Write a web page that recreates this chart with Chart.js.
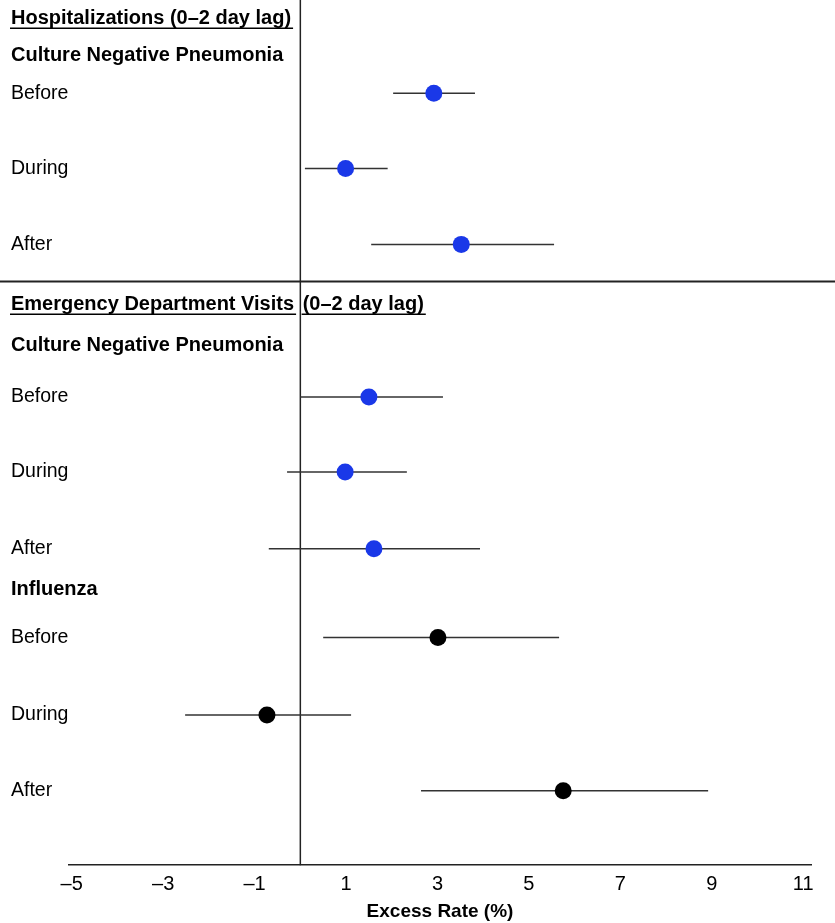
<!DOCTYPE html>
<html>
<head>
<meta charset="utf-8">
<script src="https://cdn.jsdelivr.net/npm/chart.js@4.4.1/dist/chart.umd.min.js"></script>
<style>
  body { margin: 0; background: #fff; }
  #wrap { width: 835px; height: 923px; }
</style>
</head>
<body>
<div id="wrap"><canvas id="forestChart"></canvas></div>
<script>
// rows of the forest plot (top to bottom)
const rowLabels = ['Before', 'During', 'After', 'Before', 'During', 'After', 'Before', 'During', 'After'];
const rowPos = [1.23, 2.22, 3.22, 5.23, 6.22, 7.23, 8.40, 9.42, 10.42];
const estimates = [2.92, 0.99, 3.52, 1.50, 0.98, 1.61, 3.01, -0.73, 5.75];
const lower = [2.03, 0.10, 1.55, 0.00, -0.29, -0.69, 0.50, -2.52, 2.64];
const upper = [3.82, 1.91, 5.55, 3.12, 2.33, 3.93, 5.66, 1.11, 8.92];
const outcome = ['cnp', 'cnp', 'cnp', 'cnp', 'cnp', 'cnp', 'flu', 'flu', 'flu'];

// section headings
const headers = [
    { text: ['Hospitalizations (0\u20132 day lag)'], pos: 0.24, underline: true },
    { text: ['Culture Negative Pneumonia'], pos: 0.73, underline: false },
    { text: ['Emergency Department Visits', '(0\u20132 day lag)'], pos: 4.01, underline: true },
    { text: ['Culture Negative Pneumonia'], pos: 4.55, underline: false },
    { text: ['Influenza'], pos: 7.77, underline: false }
];
const dividerPos = 3.71;
const tickValues = [-5, -3, -1, 1, 3, 5, 7, 9, 11];

const FONT = '"Liberation Sans", Arial, Helvetica, sans-serif';

function pointsFor(key) {
    const pts = [];
    for (let i = 0; i < estimates.length; i++) {
        if (outcome[i] === key) pts.push({ x: estimates[i], y: rowPos[i] });
    }
    return pts;
}

const forestPlugin = {
    id: 'forest',
    beforeDatasetsDraw(chart) {
        const { ctx, chartArea, scales: { x, y } } = chart;
        ctx.save();
        // zero line
        const x0 = x.getPixelForValue(0);
        ctx.strokeStyle = '#222';
        ctx.lineWidth = 1.5;
        ctx.beginPath();
        ctx.moveTo(x0, 0);
        ctx.lineTo(x0, chartArea.bottom);
        ctx.stroke();
        // divider between sections
        const yd = y.getPixelForValue(dividerPos);
        ctx.lineWidth = 2;
        ctx.beginPath();
        ctx.moveTo(0, yd);
        ctx.lineTo(chart.width, yd);
        ctx.stroke();
        // confidence intervals
        ctx.lineWidth = 1.5;
        ctx.strokeStyle = '#333';
        for (let i = 0; i < estimates.length; i++) {
            const py = y.getPixelForValue(rowPos[i]);
            ctx.beginPath();
            ctx.moveTo(x.getPixelForValue(lower[i]), py);
            ctx.lineTo(x.getPixelForValue(upper[i]), py);
            ctx.stroke();
        }
        ctx.restore();
    },
    afterDraw(chart) {
        const { ctx, scales: { y } } = chart;
        ctx.save();
        ctx.fillStyle = '#000';
        ctx.textBaseline = 'middle';
        ctx.textAlign = 'left';
        ctx.font = '19.5px ' + FONT;
        rowLabels.forEach((lab, i) => ctx.fillText(lab, 11, y.getPixelForValue(rowPos[i])));
        ctx.font = 'bold 20px ' + FONT;
        ctx.strokeStyle = '#000';
        ctx.lineWidth = 1.5;
        headers.forEach(h => {
            const py = y.getPixelForValue(h.pos);
            let px = 11;
            h.text.forEach(part => {
                ctx.fillText(part, px, py);
                const w = ctx.measureText(part).width;
                if (h.underline) {
                    ctx.beginPath();
                    ctx.moveTo(px - 1, py + 10);
                    ctx.lineTo(px + w + 2, py + 10);
                    ctx.stroke();
                }
                px += w + ctx.measureText(' ').width + 3;
            });
        });
        ctx.restore();
    }
};

const ctx = document.getElementById('forestChart').getContext('2d');
const chart = new Chart(ctx, {
    type: 'scatter',
    data: {
        datasets: [{
            label: 'Culture Negative Pneumonia',
            data: pointsFor('cnp'),
            backgroundColor: '#1a38e8',
            borderColor: '#1a38e8',
            pointRadius: 8.5,
            pointBorderWidth: 0
        }, {
            label: 'Influenza',
            data: pointsFor('flu'),
            backgroundColor: '#000',
            borderColor: '#000',
            pointRadius: 8.5,
            pointBorderWidth: 0
        }]
    },
    options: {
        responsive: true,
        maintainAspectRatio: false,
        animation: false,
        layout: { autoPadding: false, padding: { left: 69, right: 24, top: 0, bottom: 0 } },
        scales: {
            x: {
                type: 'linear',
                min: -5.06,
                max: 11.17,
                afterBuildTicks: axis => { axis.ticks = tickValues.map(v => ({ value: v })); },
                grid: { display: false, drawTicks: false },
                border: { display: true, color: '#222', width: 1.5 },
                ticks: {
                    color: '#000',
                    padding: 7,
                    maxRotation: 0,
                    font: { family: FONT, size: 20 },
                    callback: v => (v < 0 ? '\u2013' + Math.abs(v) : String(v))
                },
                title: {
                    display: true,
                    text: 'Excess Rate (%)',
                    color: '#000',
                    font: { family: FONT, size: 19, weight: 'bold' },
                    padding: { top: -3, bottom: 0 }
                }
            },
            y: {
                type: 'linear',
                display: false,
                reverse: true,
                min: 0,
                max: 11.4
            }
        },
        plugins: {
            legend: { display: false },
            tooltip: { enabled: false }
        }
    },
    plugins: [forestPlugin]
});
</script>
</body>
</html>
